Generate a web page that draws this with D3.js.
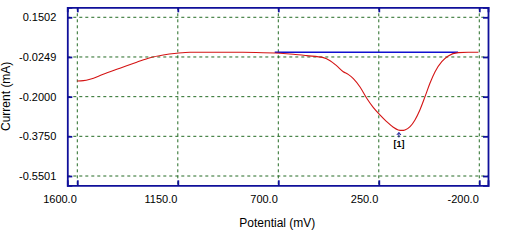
<!DOCTYPE html>
<html>
<head>
<meta charset="utf-8">
<script src="https://cdn.jsdelivr.net/npm/d3@7"></script>
<style>
  body { margin: 0; background: #fff; }
  text { font-family: Arial, "Liberation Sans", sans-serif; fill: #000; }
</style>
</head>
<body>
<div id="chart"></div>
<script>
// data
var potential = [1600, 1573, 1543, 1484, 1409, 1334, 1274, 1215, 1155, 1095, 1000, 916, 800, 692, 633, 573, 498, 468, 438, 409, 387, 364, 334, 304, 275, 245, 215, 185, 163, 146, 133, 110, 88, 66, 43, 21, -2, -32, -61, -106, -150, -196];
var current = [-0.1307, -0.1293, -0.1232, -0.1011, -0.0747, -0.0482, -0.0279, -0.0160, -0.0085, -0.0041, -0.0041, -0.0041, -0.0050, -0.0085, -0.0129, -0.0191, -0.0279, -0.0412, -0.0645, -0.0900, -0.1015, -0.1200, -0.1571, -0.2070, -0.2475, -0.2806, -0.3101, -0.3348, -0.3467, -0.3489, -0.3467, -0.3322, -0.3026, -0.2586, -0.1999, -0.1408, -0.0897, -0.0456, -0.0204, -0.0059, -0.0041, -0.0041];
var baselineStart = 716, baselineEnd = -105, baselineCurrent = -0.0041;
var peakPotential = 160, peakCurrent = -0.3489, peakLabel = "[1]";
var xTicks = [1600, 1150, 700, 250, -200];
var yTicks = [0.1502, -0.0249, -0.2000, -0.3750, -0.5501];

var svgWidth = 530, svgHeight = 243;
var margin = { top: 7.3, right: 42, bottom: 57.7, left: 67.3 };
var width = svgWidth - margin.left - margin.right;
var height = svgHeight - margin.top - margin.bottom;

var svg = d3.select("#chart").append("svg")
    .attr("width", svgWidth)
    .attr("height", svgHeight);

var g = svg.append("g")
    .attr("transform", `translate(${margin.left}, ${margin.top})`);

var x = d3.scaleLinear().domain([1644.8, -239]).range([0, width]);
var y = d3.scaleLinear().domain([0.1943, -0.5911]).range([0, height]);

var gridColor = "#246b24", frameColor = "#10109a";

// grid
g.selectAll(".vgrid").data(xTicks).enter().append("line")
    .attr("x1", d => x(d)).attr("x2", d => x(d))
    .attr("y1", 0).attr("y2", height)
    .attr("stroke", gridColor).attr("stroke-dasharray", "3,3");
g.selectAll(".hgrid").data(yTicks).enter().append("line")
    .attr("y1", d => y(d)).attr("y2", d => y(d))
    .attr("x1", 0).attr("x2", width)
    .attr("stroke", gridColor).attr("stroke-dasharray", "3,3");

// axes on all four sides, ticks pointing inward
var fmtX = d => d.toFixed(1);
var fmtY = d => d.toFixed(4);

var xAxis = g.append("g").attr("transform", `translate(0, ${height})`)
    .call(d3.axisBottom(x).tickValues(xTicks).tickSize(-5).tickPadding(10).tickFormat(fmtX));
xAxis.selectAll("text").attr("text-anchor", "end").attr("x", -1).style("font-size", "11px");

g.append("g").call(d3.axisTop(x).tickValues(xTicks).tickSize(-5).tickFormat(""));

var yAxis = g.append("g")
    .call(d3.axisLeft(y).tickValues(yTicks).tickSize(-5).tickPadding(11).tickFormat(fmtY));
yAxis.selectAll("text").style("font-size", "11px");

g.append("g").attr("transform", `translate(${width}, 0)`)
    .call(d3.axisRight(y).tickValues(yTicks).tickSize(-5).tickFormat(""));

g.selectAll(".domain").attr("stroke", frameColor).attr("stroke-width", 1.8);
g.selectAll(".tick line").attr("stroke", frameColor).attr("stroke-width", 1.8);

// baseline
g.append("line")
    .attr("x1", x(baselineStart)).attr("x2", x(baselineEnd))
    .attr("y1", y(baselineCurrent)).attr("y2", y(baselineCurrent))
    .attr("stroke", "#1010d0").attr("stroke-width", 1.3);

// curve
var line = d3.line()
    .x((d, i) => x(potential[i]))
    .y(d => y(d))
    .curve(d3.curveMonotoneX);
g.append("path")
    .datum(current)
    .attr("fill", "none")
    .attr("stroke", "#d41414")
    .attr("stroke-width", 1.1)
    .attr("d", line);

// peak marker
var px = x(peakPotential), py = y(peakCurrent);
g.append("line")
    .attr("x1", px).attr("x2", px)
    .attr("y1", py + 2.5).attr("y2", py + 7)
    .attr("stroke", "#101090").attr("stroke-width", 1);
g.append("path")
    .attr("d", `M${px - 2},${py + 4.5}L${px},${py + 2}L${px + 2},${py + 4.5}`)
    .attr("fill", "none").attr("stroke", "#101090").attr("stroke-width", 1);
g.append("text")
    .attr("x", px).attr("y", py + 17)
    .attr("text-anchor", "middle")
    .style("font-size", "9px")
    .style("font-weight", "bold")
    .text(peakLabel);

// axis titles
svg.append("text")
    .attr("x", margin.left + x(700) - 1)
    .attr("y", 227)
    .attr("text-anchor", "middle")
    .style("font-size", "12px")
    .text("Potential (mV)");
svg.append("text")
    .attr("transform", `translate(10, ${margin.top + height / 2}) rotate(-90)`)
    .attr("text-anchor", "middle")
    .style("font-size", "12px")
    .text("Current (mA)");
</script>
</body>
</html>
